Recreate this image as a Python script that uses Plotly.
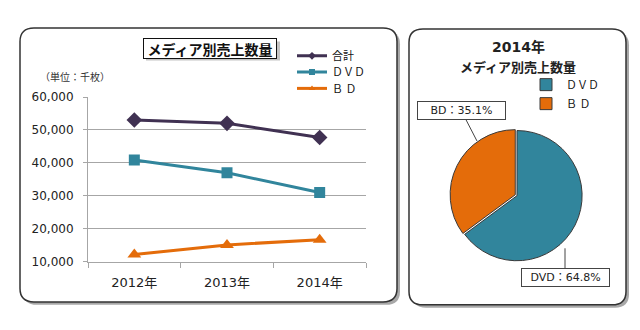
import plotly.graph_objects as go

W, H = 640, 330

# Sales volume by media (unit: thousand discs)
years = ["2012年", "2013年", "2014年"]
total = [53000, 52000, 47700]
dvd = [40900, 37000, 31000]
bd = [12200, 15100, 16700]
series_names = ["合計", "ＤＶＤ", "Ｂ Ｄ"]
y_ticks = [10000, 20000, 30000, 40000, 50000, 60000]

# 2014 share by media (%)
pie_labels = ["ＤＶＤ", "Ｂ Ｄ"]
pie_tags = ["DVD", "BD"]
pie_share = [64.8, 35.1]

C_TOTAL = "#403152"
C_DVD = "#31859c"
C_BD = "#e46c0a"
GRID = "#a6a6a6"
JP = "Noto Sans CJK JP, DejaVu Sans, sans-serif"
NUM = "DejaVu Sans, Noto Sans CJK JP, sans-serif"


def px(x):
    return x / W


def py(y):
    return 1 - y / H


def rrect(x0, y0, x1, y1, r):
    """Rounded rectangle path in paper coordinates from pixel corners."""
    pts = [
        ("M", [(x0 + r, y0)]),
        ("L", [(x1 - r, y0)]),
        ("Q", [(x1, y0), (x1, y0 + r)]),
        ("L", [(x1, y1 - r)]),
        ("Q", [(x1, y1), (x1 - r, y1)]),
        ("L", [(x0 + r, y1)]),
        ("Q", [(x0, y1), (x0, y1 - r)]),
        ("L", [(x0, y0 + r)]),
        ("Q", [(x0, y0), (x0 + r, y0)]),
    ]
    out = []
    for cmd, pp in pts:
        out.append(cmd + " " + " ".join(f"{px(a):.5f},{py(b):.5f}" for a, b in pp))
    return " ".join(out) + " Z"


fig = go.Figure()

# series lines; each series gets its own small legend row (own legend box)
line_styles = [
    (total, C_TOTAL, "diamond", 12, "legend", 51),
    (dvd, C_DVD, "square", 11, "legend3", 68),
    (bd, C_BD, "triangle-up", 12, "legend4", 85),
]
legend_layouts = {}
for name, (vals, col, sym, size, leg, ly) in zip(series_names, line_styles):
    fig.add_trace(go.Scatter(
        x=years, y=vals, name=name, mode="lines+markers",
        line=dict(color=col, width=3),
        marker=dict(symbol=sym, size=size, color=col),
        legendgroup=name, showlegend=False,
    ))
    # legend key drawn with a smaller marker than the chart points
    fig.add_trace(go.Scatter(
        x=[None], y=[None], name=name, mode="lines+markers",
        line=dict(color=col, width=3),
        marker=dict(symbol=sym, size=6, color=col),
        legendgroup=name, legend=leg, hoverinfo="skip",
    ))
    legend_layouts[leg] = dict(
        x=px(292), y=py(ly), xanchor="left", yanchor="middle",
        bgcolor="rgba(0,0,0,0)", font=dict(family=JP, size=11, color="#111"),
    )

pie_r = 68
pie_cx, pie_cy = 517, 197
pull = [0, 0.03]
half = pie_r * (1 + max(pull))
fig.add_trace(go.Pie(
    labels=pie_labels, values=pie_share, sort=False, direction="clockwise",
    rotation=0, pull=pull, textinfo="none", hoverinfo="label+percent",
    marker=dict(colors=[C_DVD, C_BD], line=dict(color="#3a3a3a", width=1)),
    domain=dict(x=[px(pie_cx - half), px(pie_cx + half)],
                y=[py(pie_cy + half), py(pie_cy - half)]),
    legend="legend2",
))

shapes = []
# panel frames with drop shadows
for (x0, y0, x1, y1) in [(20, 22, 397, 308), (409, 23, 626, 311)]:
    shapes.append(dict(type="path", xref="paper", yref="paper", layer="below",
                       path=rrect(x0 + 3, y0 + 3, x1 + 3, y1 + 3, 14),
                       fillcolor="#a8a8a8", line=dict(width=0)))
    shapes.append(dict(type="path", xref="paper", yref="paper", layer="below",
                       path=rrect(x0, y0, x1, y1, 14),
                       fillcolor="white", line=dict(color="#333333", width=1.5)))
# shadow under the line-chart title box
shapes.append(dict(type="rect", xref="paper", yref="paper", layer="below",
                   x0=px(146), x1=px(280), y0=py(56), y1=py(36),
                   fillcolor="#c4c4c4", line=dict(width=0)))

annotations = [
    dict(text="<b>メディア別売上数量</b>", x=px(210), y=py(43), xref="paper", yref="paper",
         xanchor="center", yanchor="middle",
         showarrow=False, font=dict(family=JP, size=14, color="#111"),
         bgcolor="white", bordercolor="#111", borderwidth=1, borderpad=1,
         width=130, height=17),
    dict(text="（単位：千枚）", x=px(38), y=py(73), xref="paper", yref="paper",
         xanchor="left", yanchor="middle", showarrow=False,
         font=dict(family=JP, size=10, color="#333")),
    dict(text="<b>2014年</b>", x=px(518), y=py(42), xref="paper", yref="paper",
         xanchor="center", yanchor="middle",
         showarrow=False, font=dict(family=NUM, size=14, color="#222")),
    dict(text="<b>メディア別売上数量</b>", x=px(518), y=py(62), xref="paper", yref="paper",
         xanchor="center", yanchor="middle",
         showarrow=False, font=dict(family=JP, size=13, color="#222")),
]

# pie callouts: anchor point on the slice edge, label box offset in pixels
callouts = [
    (pie_tags[0], pie_share[0], (565, 252), (0, 29)),
    (pie_tags[1], pie_share[1], (477, 140), (-16, -31)),
]
for tag, share, (ex, ey), (ax, ay) in callouts:
    annotations.append(dict(
        text=f"{tag}：{share}%", x=px(ex), y=py(ey), xref="paper", yref="paper",
        ax=ax, ay=ay, showarrow=True, arrowhead=0, arrowwidth=1, arrowcolor="#444",
        font=dict(family=NUM, size=11, color="#222"), bgcolor="white",
        bordercolor="#444", borderwidth=1, borderpad=2, width=83, height=13,
    ))

fig.update_layout(
    width=W, height=H, margin=dict(l=0, r=0, t=0, b=0),
    paper_bgcolor="white", plot_bgcolor="rgba(0,0,0,0)",
    font=dict(family=NUM, color="#222"),
    shapes=shapes, annotations=annotations,
    xaxis=dict(domain=[px(88), px(366)], type="category", range=[-0.5, 2.5],
               showgrid=False, showline=True, linecolor=GRID, linewidth=1,
               ticks="outside", tickson="boundaries", ticklen=5, tickcolor=GRID,
               ticklabelstandoff=9,
               tickfont=dict(family=NUM, size=13, color="#222"), fixedrange=True),
    yaxis=dict(domain=[py(266), py(94)], range=[10000, 60000], tickvals=y_ticks,
               tickformat=",", showgrid=True, gridcolor=GRID, gridwidth=1,
               showline=True, linecolor=GRID, ticks="outside", ticklen=4,
               tickcolor=GRID, zeroline=False, ticklabelstandoff=7,
               tickfont=dict(family=NUM, size=12, color="#222"), fixedrange=True),
    legend2=dict(x=px(526), y=py(91), xanchor="left", yanchor="middle",
                 bgcolor="rgba(0,0,0,0)", font=dict(family=JP, size=11, color="#111"),
                 itemwidth=30),
    showlegend=True,
    **legend_layouts,
)

fig.write_html("out.html")
